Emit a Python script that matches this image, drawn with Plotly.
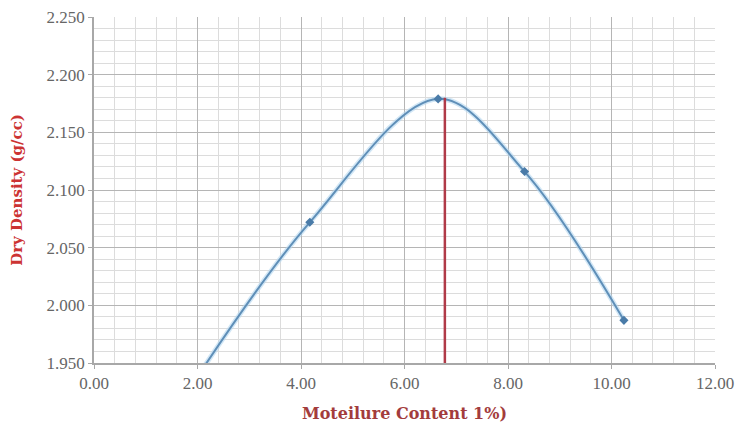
import plotly.graph_objects as go

# Data
moisture = [2.10, 4.17, 6.65, 8.32, 10.24]
dry_density = [1.945, 2.072, 2.179, 2.116, 1.987]

omc = 6.78
mdd = 2.180
ymin_axis = 1.950

x_ticks = [0, 2, 4, 6, 8, 10, 12]
x_ticklabels = ["0.00", "2.00", "4.00", "6.00", "8.00", "10.00", "12.00"]
y_ticks = [1.95, 2.0, 2.05, 2.1, 2.15, 2.2, 2.25]
y_ticklabels = ["1.950", "2.000", "2.050", "2.100", "2.150", "2.200", "2.250"]

fig = go.Figure()
fig.add_trace(go.Scatter(
    x=moisture, y=dry_density, mode="lines",
    line=dict(color="rgba(180,215,240,0.6)", width=5, shape="spline", smoothing=1.0),
    hoverinfo="skip", showlegend=False))
fig.add_trace(go.Scatter(
    x=moisture, y=dry_density, mode="lines+markers",
    line=dict(color="#5f8fb8", width=2, shape="spline", smoothing=1.0),
    marker=dict(color="#4a7ba8", size=7, symbol="diamond"),
    showlegend=False))
fig.add_trace(go.Scatter(
    x=[omc, omc], y=[ymin_axis, mdd], mode="lines",
    line=dict(color="#b03a48", width=2.5), showlegend=False))

font_serif = "Liberation Serif, Times New Roman, serif"
font_title = "DejaVu Serif, serif"
fig.update_layout(
    width=737, height=423,
    margin=dict(l=94, r=22, t=17, b=60),
    paper_bgcolor="white", plot_bgcolor="white",
    font=dict(family=font_serif, size=17, color="#666666"),
    xaxis=dict(
        range=[0, 12], tickvals=x_ticks, ticktext=x_ticklabels,
        automargin=False, ticklabeloverflow="allow",
        showgrid=True, gridcolor="#b5b5b5", gridwidth=1.2,
        minor=dict(dtick=0.4, tick0=0, showgrid=True, gridcolor="#dcdcdc", gridwidth=1),
        showline=True, linecolor="#a8a8a8", linewidth=1.5,
        ticks="outside", ticklen=4, tickcolor="#a8a8a8",
        zeroline=False,
        title=dict(text="<b>Moteilure Content 1%)</b>",
                   font=dict(family=font_title, size=16, color="#a33c3c"), standoff=17),
    ),
    yaxis=dict(
        range=[1.95, 2.25], tickvals=y_ticks, ticktext=y_ticklabels,
        automargin=False, ticklabeloverflow="allow",
        showgrid=True, gridcolor="#b5b5b5", gridwidth=1.2,
        minor=dict(dtick=0.01, tick0=1.95, showgrid=True, gridcolor="#dcdcdc", gridwidth=1),
        showline=True, linecolor="#a8a8a8", linewidth=1.5,
        ticks="outside", ticklen=4, tickcolor="#a8a8a8",
        zeroline=False,
        title=dict(text="<b>Dry Density (g/cc)</b>",
                   font=dict(family=font_title, size=15, color="#cc3333"), standoff=20),
    ),
)

fig.write_html("out.html", config={"displayModeBar": False},
               post_script="document.body.style.margin='0';")
